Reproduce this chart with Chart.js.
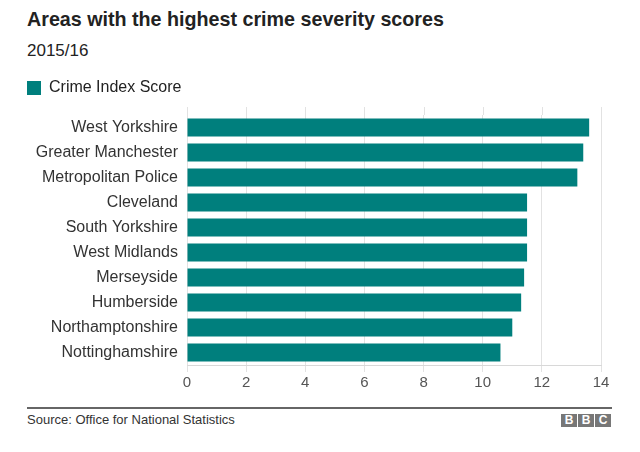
<!DOCTYPE html>
<html>
<head>
<meta charset="utf-8">
<script src="https://cdn.jsdelivr.net/npm/chart.js@4"></script>
<style>
  body { margin: 0; background: #fff; font-family: "Liberation Sans", Arial, sans-serif; }
  #wrap { position: relative; width: 640px; height: 452px; overflow: hidden; }
  #title { position: absolute; left: 27px; top: 8px; font-size: 19.7px; font-weight: bold; color: #222; }
  #sub { position: absolute; left: 27px; top: 41px; font-size: 17px; color: #222; }
  #chartBox { position: absolute; left: 0; top: 70px; width: 640px; height: 330px; }
  #rule { position: absolute; left: 27px; top: 407px; width: 585px; height: 2px; background: #666; }
  #source { position: absolute; left: 27px; top: 412px; font-size: 13px; color: #333; }
  #bbc { position: absolute; left: 561px; top: 414px; display: flex; gap: 1px; }
  #bbc span { display: block; width: 16px; height: 13px; background: #777; color: #fff; font-size: 12px; font-weight: bold; text-align: center; line-height: 13px; }
</style>
</head>
<body>
<div id="wrap">
  <div id="title">Areas with the highest crime severity scores</div>
  <div id="sub">2015/16</div>
  <div id="chartBox"><canvas id="crimeChart"></canvas></div>
  <div id="rule"></div>
  <div id="source">Source: Office for National Statistics</div>
  <div id="bbc"><span>B</span><span>B</span><span>C</span></div>
</div>
<script>
const areas = ['West Yorkshire', 'Greater Manchester', 'Metropolitan Police', 'Cleveland', 'South Yorkshire',
    'West Midlands', 'Merseyside', 'Humberside', 'Northamptonshire', 'Nottinghamshire'];
const scores = [13.6, 13.4, 13.2, 11.5, 11.5, 11.5, 11.4, 11.3, 11.0, 10.6];
const xTicks = [0, 2, 4, 6, 8, 10, 12, 14];

// extra room under the legend
const legendGap = {
    id: 'legendGap',
    beforeInit(chart) {
        const fit = chart.legend.fit;
        chart.legend.fit = function() {
            fit.call(this);
            this.height += 9;
        };
    }
};

// grid lines run a little above the first bar
const gridTop = {
    id: 'gridTop',
    beforeDatasetsDraw(chart) {
        const x = chart.scales.x;
        const top = chart.chartArea.top;
        const c = chart.ctx;
        c.save();
        c.strokeStyle = '#e2e2e2';
        c.lineWidth = 1;
        x.ticks.forEach(t => {
            const px = Math.round(x.getPixelForValue(t.value)) + 0.5;
            c.beginPath();
            c.moveTo(px, top - 8);
            c.lineTo(px, top);
            c.stroke();
        });
        c.restore();
    }
};

const ctx = document.getElementById('crimeChart').getContext('2d');
const chart = new Chart(ctx, {
    type: 'bar',
    data: {
        labels: areas,
        datasets: [{
            label: 'Crime Index Score',
            data: scores,
            backgroundColor: '#007f7d',
            borderWidth: 0,
            categoryPercentage: 1,
            barPercentage: 0.72
        }]
    },
    options: {
        indexAxis: 'y',
        responsive: true,
        maintainAspectRatio: false,
        animation: false,
        layout: { padding: { left: 17, right: 39, top: 0, bottom: 6 } },
        plugins: {
            tooltip: { enabled: false },
            legend: {
                align: 'start',
                labels: {
                    boxWidth: 14,
                    boxHeight: 14,
                    color: '#222',
                    font: { family: 'Liberation Sans', size: 16 },
                    padding: 10
                }
            }
        },
        scales: {
            x: {
                min: 0,
                max: 14,
                afterBuildTicks: function(scale) {
                    scale.ticks = xTicks.map(v => ({ value: v }));
                },
                grid: { color: '#e2e2e2', tickLength: 7 },
                border: { color: '#d8d8d8' },
                ticks: {
                    color: '#555',
                    padding: 2,
                    font: { family: 'Liberation Sans', size: 15 }
                }
            },
            y: {
                afterFit: function(scale) { scale.width = 170; },
                grid: { display: false, drawTicks: false },
                border: { display: false },
                ticks: {
                    color: '#333',
                    padding: 9,
                    font: { family: 'Liberation Sans', size: 16 }
                }
            }
        }
    },
    plugins: [legendGap, gridTop]
});
</script>
</body>
</html>
